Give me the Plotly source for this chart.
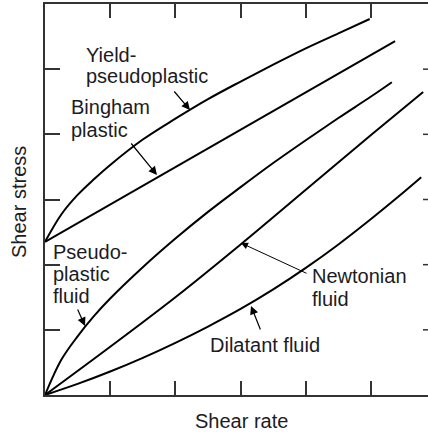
import plotly.graph_objects as go

# ---- data (arbitrary units) ----
rate_yield = [0, 0.25, 0.5, 0.75, 1.0, 1.5, 2.0, 2.5, 3.0, 3.5, 4.0, 4.5, 4.98]
stress_yield = [2.35, 2.77, 3.07, 3.31, 3.53, 3.92, 4.24, 4.54, 4.81, 5.07, 5.32, 5.55, 5.77]

rate_bingham = [0, 5.37]
stress_bingham = [2.35, 5.43]

rate_pseudo = [0, 0.25, 0.5, 0.75, 1.0, 1.5, 2.0, 2.5, 3.0, 3.5, 4.0, 4.5, 5.0, 5.32]
stress_pseudo = [0, 0.54, 0.90, 1.21, 1.48, 1.96, 2.40, 2.81, 3.19, 3.56, 3.91, 4.25, 4.58, 4.80]

rate_newton = [0, 1, 2, 3, 4, 5, 5.8]
stress_newton = [0, 0.74, 1.5, 2.31, 3.15, 3.99, 4.65]

rate_dilatant = [0, 0.5, 1.0, 1.5, 2.0, 2.5, 3.0, 3.5, 4.0, 4.5, 5.0, 5.5, 5.77]
stress_dilatant = [0, 0.17, 0.36, 0.57, 0.80, 1.05, 1.32, 1.62, 1.95, 2.31, 2.70, 3.11, 3.34]

tick_vals = [1, 2, 3, 4, 5]

W, H = 428, 432
ML, MR, MT, MB = 45, 0, 4, 37
PX_PER_UNIT_X = 65.2
X_MAX = (W - ML - MR) / PX_PER_UNIT_X
Y_MAX = 6

FONT = "Liberation Sans, Arial, sans-serif"
TXT = "#1c1c24"
FS = 20

def dx(px):
    return (px - ML) / PX_PER_UNIT_X

def dy(py):
    return (H - MB - py) / ((H - MT - MB) / Y_MAX)

fig = go.Figure()
for xs, ys in [(rate_yield, stress_yield), (rate_bingham, stress_bingham),
               (rate_pseudo, stress_pseudo), (rate_newton, stress_newton),
               (rate_dilatant, stress_dilatant)]:
    fig.add_trace(go.Scatter(x=xs, y=ys, mode="lines",
                             line=dict(color="black", width=2, shape="spline", smoothing=1.0),
                             hoverinfo="skip", showlegend=False, cliponaxis=True))

# labels: (text, left px, center px)
labels = [
    ("Yield-", 85, 55),
    ("pseudoplastic", 85, 76),
    ("Bingham", 70, 107),
    ("plastic", 70, 130),
    ("Pseudo-", 52, 252),
    ("plastic", 52, 274),
    ("fluid", 52, 296),
    ("Newtonian", 311, 276),
    ("fluid", 311, 299),
    ("Dilatant fluid", 209, 345),
]
for t, lx, cy in labels:
    fig.add_annotation(x=dx(lx), y=dy(cy), text=t, showarrow=False, xanchor="left",
                       yanchor="middle", font=dict(family=FONT, size=FS, color=TXT),
                       borderpad=0)

# arrows: start px -> tip px
arrows = [
    ((173, 90), (190, 110), 1.2),
    ((130, 142), (157, 175), 1.2),
    ((77, 308), (85, 326), 1.2),
    ((308, 274), (241, 243), 1.0),
    ((261, 331), (251, 306), 1.2),
]
for (sx, sy), (tx, ty), w in arrows:
    fig.add_annotation(x=dx(tx), y=dy(ty), ax=dx(sx), ay=dy(sy), axref="x", ayref="y",
                       text="", showarrow=True, arrowhead=2, arrowsize=1.4,
                       arrowwidth=w, arrowcolor="black", standoff=0)

# axis titles
fig.add_annotation(xref="paper", yref="paper", x=(241 - ML) / (W - ML - MR), y=-(421 - (H - MB)) / (H - MT - MB),
                   text="Shear rate", showarrow=False, xanchor="center", yanchor="middle",
                   font=dict(family=FONT, size=FS, color=TXT))
fig.add_annotation(xref="paper", yref="paper", x=-(ML - 19) / (W - ML - MR), y=(H - MB - 202) / (H - MT - MB),
                   text="Shear stress", showarrow=False, xanchor="center", yanchor="middle",
                   textangle=-90, font=dict(family=FONT, size=FS, color=TXT))

# right-side short ticks (right frame is cropped)
for v in tick_vals:
    fig.add_shape(type="line", xref="paper", yref="y", x0=(423 - ML) / (W - ML - MR), x1=1,
                  y0=v, y1=v, line=dict(color="#333", width=1.5))

fig.update_layout(
    width=W, height=H, margin=dict(l=ML, r=MR, t=MT, b=MB),
    paper_bgcolor="white", plot_bgcolor="white",
    xaxis=dict(range=[0, X_MAX], showgrid=False, zeroline=False, showline=True,
               linecolor="#333", linewidth=1.5, mirror="ticks", ticks="inside",
               ticklen=14, tickwidth=1.5, tickcolor="#333", tickvals=tick_vals,
               showticklabels=False, fixedrange=True),
    yaxis=dict(range=[0, Y_MAX], showgrid=False, zeroline=False, showline=True,
               linecolor="#333", linewidth=1.5, mirror=False, ticks="inside",
               ticklen=15, tickwidth=1.5, tickcolor="#333", tickvals=tick_vals,
               showticklabels=False, fixedrange=True),
    showlegend=False,
)

fig.write_html("out.html", config={"displayModeBar": False},
               post_script="document.body.style.margin='0';document.body.style.overflow='hidden';")
